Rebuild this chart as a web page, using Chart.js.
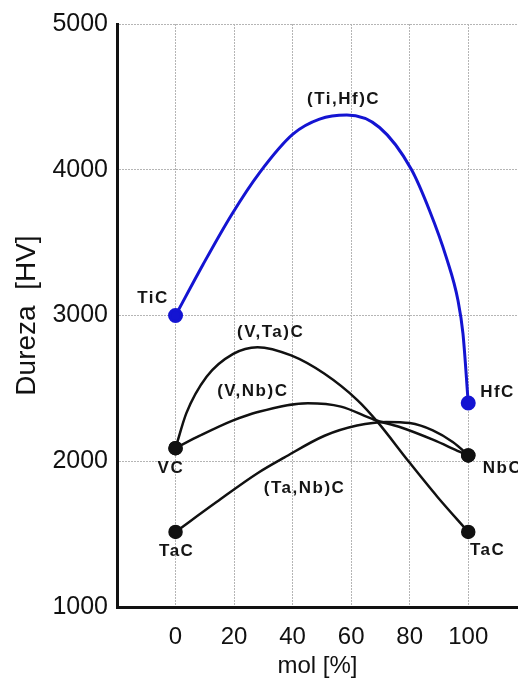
<!DOCTYPE html>
<html>
<head>
<meta charset="utf-8">
<script src="https://cdn.jsdelivr.net/npm/chart.js@4/dist/chart.umd.min.js"></script>
<style>
  html, body { margin: 0; padding: 0; background: #fff; overflow: hidden; }
  canvas { display: block; }
</style>
</head>
<body>
<canvas id="myChart" width="518" height="686"></canvas>
<script>
// x = mol %, y = Vickers hardness (HV)
const tiHfX = [0, 9.4, 19.1, 28.8, 40.1, 49.2, 58.5, 69.7, 80.5, 86.8, 92.5, 96.5, 98.2, 100];
const tiHfY = [3000, 3350, 3690, 3982, 4244, 4347, 4375, 4290, 4005, 3719, 3399, 3103, 2875, 2400];

const vTaX = [0, 3.7, 10.6, 19.7, 28, 39.5, 50.9, 62.2, 69, 79.3, 89.5, 100];
const vTaY = [2090, 2330, 2580, 2737, 2783, 2726, 2600, 2418, 2270, 2007, 1755, 1515];

const vNbX = [0, 8.3, 19.7, 28.1, 45.2, 56.5, 67.9, 76.6, 87.9, 97, 100];
const vNbY = [2090, 2175, 2280, 2338, 2398, 2375, 2285, 2235, 2148, 2066, 2040];

const taNbX = [0, 14, 28, 37.1, 50.9, 62, 72, 80, 87.9, 94.7, 98.7, 100];
const taNbY = [1515, 1720, 1918, 2025, 2175, 2245, 2270, 2262, 2212, 2132, 2065, 2040];

const xTicks = [0, 20, 40, 60, 80, 100];

// text labels placed in data coordinates
const curveLabels = [
  { text: "TiC", x: -7.7, y: 3116 },
  { text: "(Ti,Hf)C", x: 57.4, y: 4486 },
  { text: "(V,Ta)C", x: 32.5, y: 2884 },
  { text: "(V,Nb)C", x: 26.4, y: 2479 },
  { text: "HfC", x: 110, y: 2473 },
  { text: "VC", x: -1.6, y: 1952 },
  { text: "NbC", x: 111.7, y: 1952 },
  { text: "(Ta,Nb)C", x: 44.1, y: 1815 },
  { text: "TaC", x: 0.4, y: 1384 },
  { text: "TaC", x: 106.6, y: 1390 },
];

function toPoints(xs, ys) {
  return xs.map((x, i) => ({ x: x, y: ys[i] }));
}
function endRadius(xs, r) {
  return xs.map((x, i) => (i === 0 || i === xs.length - 1) ? r : 0);
}

function curve(label, xs, ys, color, width) {
  return {
    label: label,
    data: toPoints(xs, ys),
    borderColor: color,
    backgroundColor: color,
    pointBackgroundColor: color,
    pointBorderColor: color,
    borderWidth: width,
    pointRadius: endRadius(xs, 6),
    pointHoverRadius: endRadius(xs, 6),
    cubicInterpolationMode: "monotone",
    fill: false,
  };
}

const labelPlugin = {
  id: "curveLabels",
  afterDatasetsDraw(chart) {
    const ctx = chart.ctx;
    const sx = chart.scales.x, sy = chart.scales.y;
    ctx.save();
    ctx.font = "bold 17px 'Liberation Sans', Arial, sans-serif";
    ctx.letterSpacing = "1.5px";
    ctx.fillStyle = "#151515";
    ctx.textAlign = "center";
    ctx.textBaseline = "middle";
    curveLabels.forEach(l => {
      ctx.fillText(l.text, sx.getPixelForValue(l.x), sy.getPixelForValue(l.y));
    });
    ctx.restore();
  },
};

const config = {
  type: "line",
  data: {
    datasets: [
      curve("(Ti,Hf)C", tiHfX, tiHfY, "#1414d2", 3),
      curve("(V,Ta)C", vTaX, vTaY, "#111111", 2.5),
      curve("(V,Nb)C", vNbX, vNbY, "#111111", 2.5),
      curve("(Ta,Nb)C", taNbX, taNbY, "#111111", 2.5),
    ],
  },
  options: {
    responsive: false,
    animation: false,
    layout: { autoPadding: false, padding: { top: 23, right: 0, left: 0, bottom: 0 } },
    plugins: {
      legend: { display: false },
      tooltip: { enabled: false },
    },
    scales: {
      x: {
        type: "linear",
        min: -20,
        max: 117,
        afterBuildTicks: (scale) => { scale.ticks = xTicks.map(v => ({ value: v })); },
        afterFit: (scale) => {
          scale.height = 79;
          scale.paddingLeft = 0;
          scale.paddingRight = 0;
        },
        grid: { color: "#b5b5b5", lineWidth: 1, drawTicks: false },
        border: { display: true, color: "#111", width: 3, dash: [2, 1] },
        ticks: {
          color: "#111",
          padding: 16,
          font: { family: "'Liberation Sans', Arial, sans-serif", size: 24 },
        },
        title: {
          display: true,
          text: "mol [%]",
          color: "#111",
          padding: { top: 0, bottom: 5 },
          font: { family: "'Liberation Sans', Arial, sans-serif", size: 24 },
        },
      },
      y: {
        min: 1000,
        max: 5000,
        afterFit: (scale) => { scale.width = 117; },
        ticks: {
          stepSize: 1000,
          color: "#111",
          padding: 9,
          callback: (v) => String(v),
          font: { family: "'Liberation Sans', Arial, sans-serif", size: 25 },
        },
        grid: { color: "#b5b5b5", lineWidth: 1, drawTicks: false },
        border: { display: true, color: "#111", width: 3, dash: [2, 1] },
        title: {
          display: true,
          text: "Dureza  [HV]",
          color: "#111",
          padding: { top: 10, bottom: 0 },
          font: { family: "'Liberation Sans', Arial, sans-serif", size: 28 },
        },
      },
    },
  },
  plugins: [labelPlugin],
};

const myChart = new Chart(document.getElementById("myChart"), config);
</script>
</body>
</html>
